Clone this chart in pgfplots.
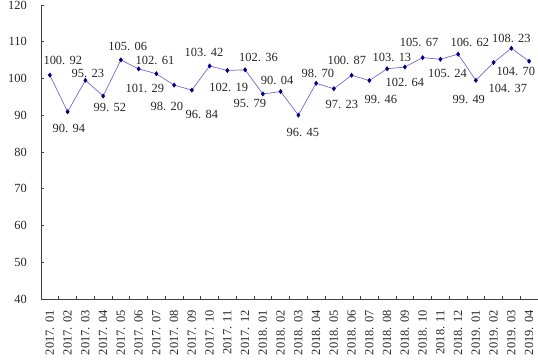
\documentclass[border=0pt]{standalone}
\usepackage{fontspec}
\setmainfont{Liberation Serif}
\usepackage{pgfplots}
\pgfplotsset{compat=1.18}
\definecolor{linec}{RGB}{110,110,205}
\definecolor{markc}{RGB}{0,0,135}
\newcommand\lb[2]{#1.\kern0.35em#2}
\newcommand\fs{\fontsize{12.5}{14}\selectfont}
\begin{document}
\begin{tikzpicture}
\begin{axis}[
  scale only axis,
  width=497bp, height=294bp,
  xmin=-0.5, xmax=27.5, ymin=40, ymax=120,
  axis x line=bottom, axis y line=left,
  axis line style={-, draw=black!75, line width=0.6bp},
  tick align=inside,
  major tick length=3bp, minor tick length=3bp,
  tick style={draw=black!75, line width=0.6bp},
  ytick={40,50,...,120},
  xtick={0,...,27},
  major x tick style={draw=none},
  minor xtick={0.5,1.5,...,27.5},
  xticklabels={\lb{2017}{01},\lb{2017}{02},\lb{2017}{03},\lb{2017}{04},\lb{2017}{05},\lb{2017}{06},\lb{2017}{07},\lb{2017}{08},\lb{2017}{09},\lb{2017}{10},\lb{2017}{11},\lb{2017}{12},\lb{2018}{01},\lb{2018}{02},\lb{2018}{03},\lb{2018}{04},\lb{2018}{05},\lb{2018}{06},\lb{2018}{07},\lb{2018}{08},\lb{2018}{09},\lb{2018}{10},\lb{2018}{11},\lb{2018}{12},\lb{2019}{01},\lb{2019}{02},\lb{2019}{03},\lb{2019}{04}},
  xticklabel style={rotate=90, anchor=east, font=\fs, text=black!85, inner sep=0pt},
  xticklabel shift=11bp,
  yticklabel style={font=\fs, text=black!85, inner sep=0pt},
  yticklabel shift=14bp,
  /pgf/number format/assume math mode=true,
  clip=false,
]
\addplot[color=linec, line width=0.7bp, mark=diamond*, mark size=2bp, mark options={draw=markc, fill=markc}] coordinates {
(0,100.92) (1,90.94) (2,99.52) (3,95.23) (4,105.06) (5,102.61) (6,101.29)
(7,98.20) (8,96.84) (9,103.42) (10,102.19) (11,102.36) (12,95.79) (13,96.45)
(14,90.04) (15,98.70) (16,97.23) (17,100.87) (18,99.46) (19,102.64) (20,103.13)
(21,105.67) (22,105.24) (23,106.62) (24,99.49) (25,104.37) (26,108.23) (27,104.70)
};
\begin{scope}[every node/.style={font=\fs, text=black!85, inner sep=0pt}]
\node at (axis cs:0.73,105.0) {\lb{100}{92}};
\node at (axis cs:1.07,86.5) {\lb{90}{94}};
\node at (axis cs:2.14,101.5) {\lb{95}{23}};
\node at (axis cs:3.38,92.0) {\lb{99}{52}};
\node at (axis cs:4.39,108.6) {\lb{105}{06}};
\node at (axis cs:5.92,105.0) {\lb{102}{61}};
\node at (axis cs:5.35,97.4) {\lb{101}{29}};
\node at (axis cs:6.59,92.5) {\lb{98}{20}};
\node at (axis cs:8.56,90.1) {\lb{96}{84}};
\node at (axis cs:8.68,107.2) {\lb{103}{42}};
\node at (axis cs:10.08,97.7) {\lb{102}{19}};
\node at (axis cs:11.75,105.6) {\lb{102}{36}};
\node at (axis cs:11.27,93.1) {\lb{95}{79}};
\node at (axis cs:12.8,99.6) {\lb{90}{04}};
\node at (axis cs:14.25,85.4) {\lb{96}{45}};
\node at (axis cs:15.1,101.5) {\lb{98}{70}};
\node at (axis cs:16.45,92.8) {\lb{97}{23}};
\node at (axis cs:16.73,105.0) {\lb{100}{87}};
\node at (axis cs:18.65,94.2) {\lb{99}{46}};
\node at (axis cs:19.27,105.6) {\lb{103}{13}};
\node at (axis cs:20.0,99.0) {\lb{102}{64}};
\node at (axis cs:20.8,109.9) {\lb{105}{67}};
\node at (axis cs:22.4,101.5) {\lb{105}{24}};
\node at (axis cs:23.66,109.9) {\lb{106}{62}};
\node at (axis cs:23.6,94.4) {\lb{99}{49}};
\node at (axis cs:26.0,111.0) {\lb{108}{23}};
\node at (axis cs:25.8,97.4) {\lb{104}{37}};
\node at (axis cs:26.25,101.8) {\lb{104}{70}};
\end{scope}
\end{axis}
\pgfresetboundingbox
\path (-41bp,-64bp) rectangle (497bp,299bp);
\end{tikzpicture}
\end{document}
